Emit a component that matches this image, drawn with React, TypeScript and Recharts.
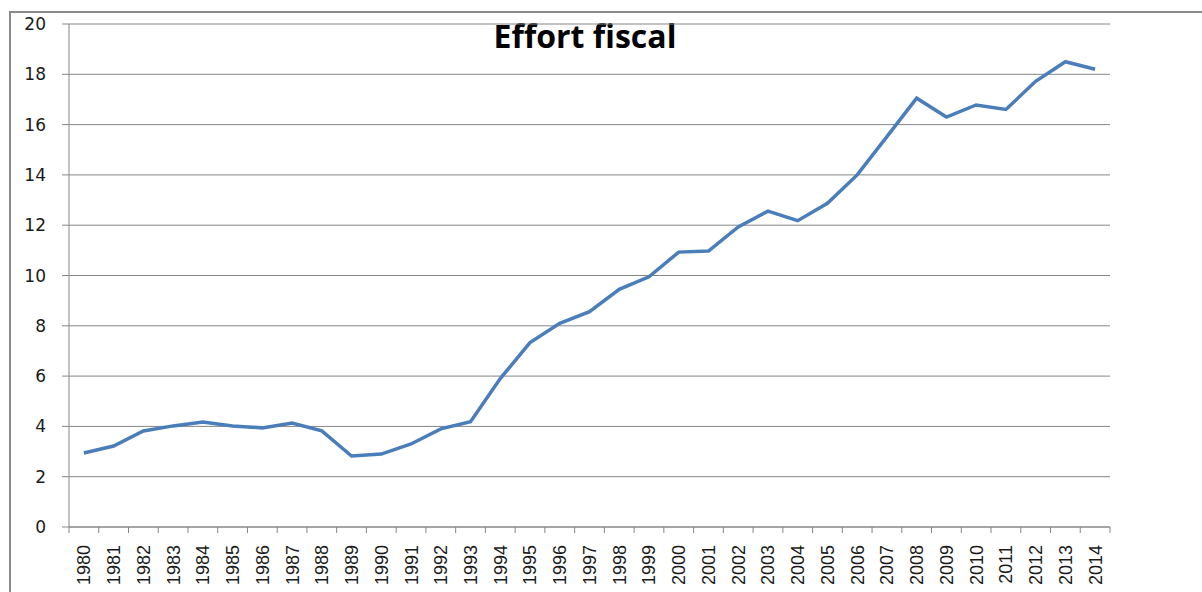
import React from "react";
import { LineChart, Line, XAxis, YAxis, CartesianGrid } from "recharts";

const years = [
    "1980", "1981", "1982", "1983", "1984", "1985", "1986", "1987", "1988", "1989",
    "1990", "1991", "1992", "1993", "1994", "1995", "1996", "1997", "1998", "1999",
    "2000", "2001", "2002", "2003", "2004", "2005", "2006", "2007", "2008", "2009",
    "2010", "2011", "2012", "2013", "2014",
];

const effort = [
    2.94, 3.22, 3.82, 4.02, 4.17, 4.02, 3.94, 4.13, 3.82, 2.82,
    2.9, 3.3, 3.9, 4.19, 5.9, 7.33, 8.1, 8.56, 9.45, 9.95,
    10.93, 10.97, 11.93, 12.56, 12.18, 12.87, 14.0, 15.52, 17.05, 16.3,
    16.78, 16.6, 17.72, 18.5, 18.2,
];

const yTicks = [0, 2, 4, 6, 8, 10, 12, 14, 16, 18, 20];

const data = years.map((year, i) => ({ year, effort: effort[i] }));

const W = 1202;
const H = 592;
const MARGIN = { top: 24, right: 92, bottom: 0, left: 0 };
const Y_AXIS_W = 69;
const GRAY = "#868686";
const band = (W - MARGIN.left - MARGIN.right - Y_AXIS_W) / years.length;

// year label rotated, plus tick marks at the category boundaries
const YearTick = (props: any) => {
    const { x, y, payload, index } = props;
    return (
        <g>
            <line x1={x - band / 2} x2={x - band / 2} y1={y} y2={y + 6} stroke={GRAY} />
            {index === years.length - 1 && (
                <line x1={x + band / 2} x2={x + band / 2} y1={y} y2={y + 6} stroke={GRAY} />
            )}
            <text
                transform={`translate(${x},${y + 18}) rotate(-90)`}
                textAnchor="end"
                dy="0.36em"
                fontFamily="Liberation Sans"
                fontSize={18}
                fill="#1a1a1a"
            >
                {payload.value}
            </text>
        </g>
    );
};

export default function App() {
    return (
        <div style={{ position: "absolute", left: 0, top: 0, width: W, height: H, overflow: "hidden", background: "#fff" }}>
            <div
                style={{
                    position: "absolute",
                    left: 9,
                    top: 11,
                    width: W + 20,
                    height: H + 20,
                    borderLeft: "2px solid #8a8a8a",
                    borderTop: "2px solid #8a8a8a",
                }}
            />
            <div
                style={{
                    position: "absolute",
                    left: 0,
                    width: 1170,
                    top: 14,
                    textAlign: "center",
                    fontFamily: "Open Sans",
                    fontWeight: 700,
                    fontSize: 32,
                    color: "#000",
                }}
            >
                Effort fiscal
            </div>
            <LineChart width={W} height={H} data={data} margin={MARGIN} style={{ position: "absolute", left: 0, top: 0 }}>
                <CartesianGrid vertical={false} stroke={GRAY} />
                <XAxis
                    dataKey="year"
                    interval={0}
                    height={65}
                    padding={{ left: band / 2, right: band / 2 }}
                    tickLine={false}
                    tickSize={0}
                    tickMargin={0}
                    axisLine={{ stroke: GRAY }}
                    tick={<YearTick />}
                />
                <YAxis
                    width={Y_AXIS_W}
                    domain={[0, 20]}
                    ticks={yTicks}
                    interval={0}
                    tickSize={7}
                    tickMargin={16}
                    tickLine={{ stroke: GRAY }}
                    axisLine={{ stroke: GRAY }}
                    tick={{ fontFamily: "DejaVu Sans", fontSize: 17, fill: "#1a1a1a" }}
                />
                <Line
                    type="linear"
                    dataKey="effort"
                    stroke="#4a7ebb"
                    strokeWidth={3.5}
                    dot={false}
                    isAnimationActive={false}
                />
            </LineChart>
        </div>
    );
}
